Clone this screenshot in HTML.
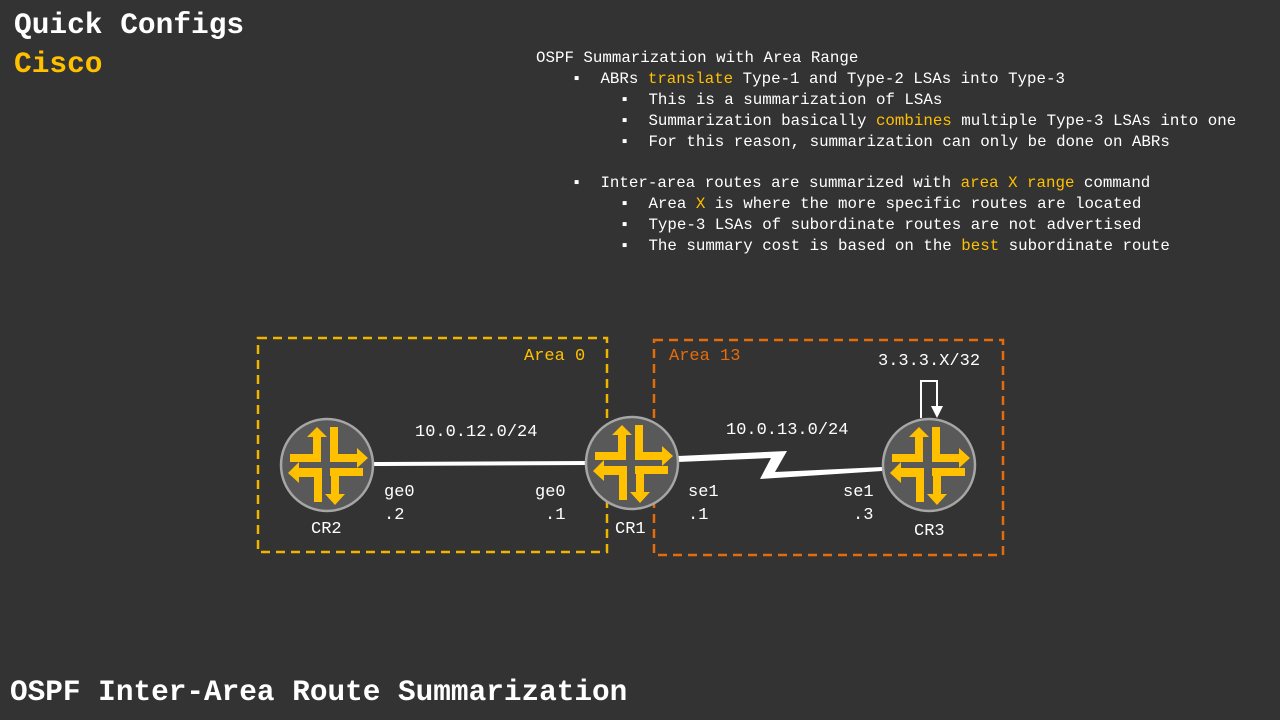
<!DOCTYPE html>
<html><head><meta charset="utf-8"><style>
body{margin:0;width:1280px;height:720px;background:#333333;overflow:hidden;position:relative;font-family:"Liberation Mono",monospace;color:#fff}
.t{position:absolute;white-space:pre}
.y{color:#ffc000}
.b{font-weight:bold}
.l{position:absolute;white-space:pre;font-size:15.8px;line-height:21px}
.lab{position:absolute;white-space:pre;font-size:17px}
</style></head><body>
<div class="t b" style="left:14px;top:8px;font-size:29.5px">Quick Configs</div>
<div class="t b y" style="left:14px;top:47px;font-size:29.5px">Cisco</div>
<div class="t b" style="left:10px;top:676px;font-size:29.4px">OSPF Inter-Area Route Summarization</div>

<div class="l" style="left:536px;top:48px">OSPF Summarization with Area Range</div>
<div class="l" style="left:572px;top:69px">▪  ABRs <span class="y">translate</span> Type-1 and Type-2 LSAs into Type-3</div>
<div class="l" style="left:620px;top:90px">▪  This is a summarization of LSAs</div>
<div class="l" style="left:620px;top:111px">▪  Summarization basically <span class="y">combines</span> multiple Type-3 LSAs into one</div>
<div class="l" style="left:620px;top:132px">▪  For this reason, summarization can only be done on ABRs</div>
<div class="l" style="left:572px;top:173px">▪  Inter-area routes are summarized with <span class="y">area X range</span> command</div>
<div class="l" style="left:620px;top:194px">▪  Area <span class="y">X</span> is where the more specific routes are located</div>
<div class="l" style="left:620px;top:215px">▪  Type-3 LSAs of subordinate routes are not advertised</div>
<div class="l" style="left:620px;top:236px">▪  The summary cost is based on the <span class="y">best</span> subordinate route</div>

<svg width="1280" height="720" style="position:absolute;left:0;top:0">
<defs>
<g id="r">
<circle r="46" fill="#595959" stroke="#a6a6a6" stroke-width="2.5"/>
<g fill="#ffc000">
<polygon points="-14,-3 -14,-28 -20,-28 -10,-38 0,-28 -6,-28 -6,-3"/>
<rect x="-37" y="-11" width="31" height="8"/>
<polygon points="3,-11 3,-38 11,-38 11,-11 30,-11 30,-17 41,-7 30,3 30,-3 3,-3"/>
<polygon points="-5,3 -28,3 -28,-3 -39,8 -28,18 -28,12 -13,12 -13,37 -5,37"/>
<rect x="3" y="3" width="33" height="8"/>
<polygon points="4,11 4,29 -2,29 8,40 18,29 12,29 12,11"/>
</g>
</g>
</defs>
<rect x="258" y="338" width="349" height="214" fill="none" stroke="#f0b400" stroke-width="2.5" stroke-dasharray="9,6"/>
<rect x="654" y="340" width="349" height="215" fill="none" stroke="#e46c0a" stroke-width="2.5" stroke-dasharray="9,6"/>
<line x1="372" y1="464" x2="588" y2="463" stroke="#fff" stroke-width="4"/>
<polygon points="678,456 787,451 775,472 882,467 882,471 760,479 771,458 678,462" fill="#fff"/>
<polyline points="921,418 921,381 937,381 937,408" fill="none" stroke="#fff" stroke-width="2"/>
<polygon points="931,406 943,406 937,418" fill="#fff"/>
<use href="#r" x="327" y="465"/>
<use href="#r" x="632" y="463"/>
<use href="#r" x="929" y="465"/>
</svg>

<div class="lab y" style="left:524px;top:347px">Area 0</div>
<div class="lab" style="left:669px;top:347px;color:#e46c0a">Area 13</div>
<div class="lab" style="left:878px;top:352px">3.3.3.X/32</div>
<div class="lab" style="left:415px;top:423px">10.0.12.0/24</div>
<div class="lab" style="left:726px;top:421px">10.0.13.0/24</div>
<div class="lab" style="left:384px;top:483px">ge0</div>
<div class="lab" style="left:384px;top:506px">.2</div>
<div class="lab" style="left:535px;top:483px">ge0</div>
<div class="lab" style="left:545px;top:506px">.1</div>
<div class="lab" style="left:688px;top:483px">se1</div>
<div class="lab" style="left:688px;top:506px">.1</div>
<div class="lab" style="left:843px;top:483px">se1</div>
<div class="lab" style="left:853px;top:506px">.3</div>
<div class="lab" style="left:311px;top:520px">CR2</div>
<div class="lab" style="left:615px;top:520px">CR1</div>
<div class="lab" style="left:914px;top:522px">CR3</div>
</body></html>
